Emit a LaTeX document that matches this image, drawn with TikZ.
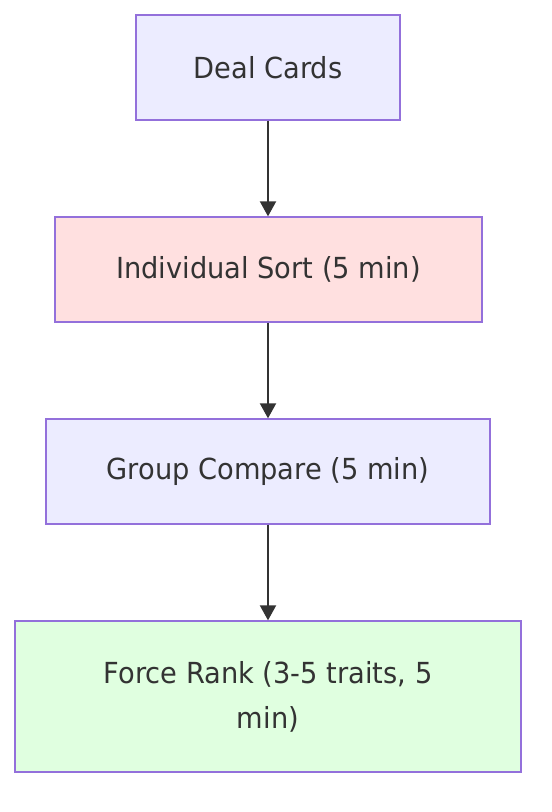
\documentclass[tikz,border=0pt]{standalone}
\usepackage{fontspec}
\setmainfont[FakeStretch=0.94]{DejaVu Sans}
\usetikzlibrary{arrows.meta}
\definecolor{lav}{HTML}{ECECFF}
\definecolor{pinkf}{HTML}{FFE0E0}
\definecolor{greenf}{HTML}{E0FFE0}
\definecolor{bord}{HTML}{9370DB}
\definecolor{ink}{HTML}{333333}
\tikzset{
  box/.style={draw=bord, line width=1.3pt, text=ink, font=\fontsize{29}{45}\selectfont, align=center, inner sep=0pt, anchor=center},
  conn/.style={draw=ink, line width=2pt, -{Triangle[length=15pt,width=16pt]}}
}
\begin{document}
\begin{tikzpicture}[x=1pt,y=-1pt]
\useasboundingbox (0,0) rectangle (552,812);
\node[box, fill=lav, minimum width=264pt, minimum height=105pt] (a) at (268,67.5) {Deal Cards};
\node[box, fill=pinkf, minimum width=427pt, minimum height=105pt] (b) at (268.5,269.5) {Individual Sort (5 min)};
\node[box, fill=lav, minimum width=444pt, minimum height=105pt] (c) at (268,471.5) {Group Compare (5 min)};
\node[box, fill=greenf, minimum width=506pt, minimum height=151pt] (d) at (268,696.5) {Force Rank (3-5 traits, 5\\min)};
\draw[conn] (a.south) -- (a.south |- b.north);
\draw[conn] (b.south -| a.south) -- (a.south |- c.north);
\draw[conn] (c.south) -- (d.north);
\end{tikzpicture}
\end{document}
